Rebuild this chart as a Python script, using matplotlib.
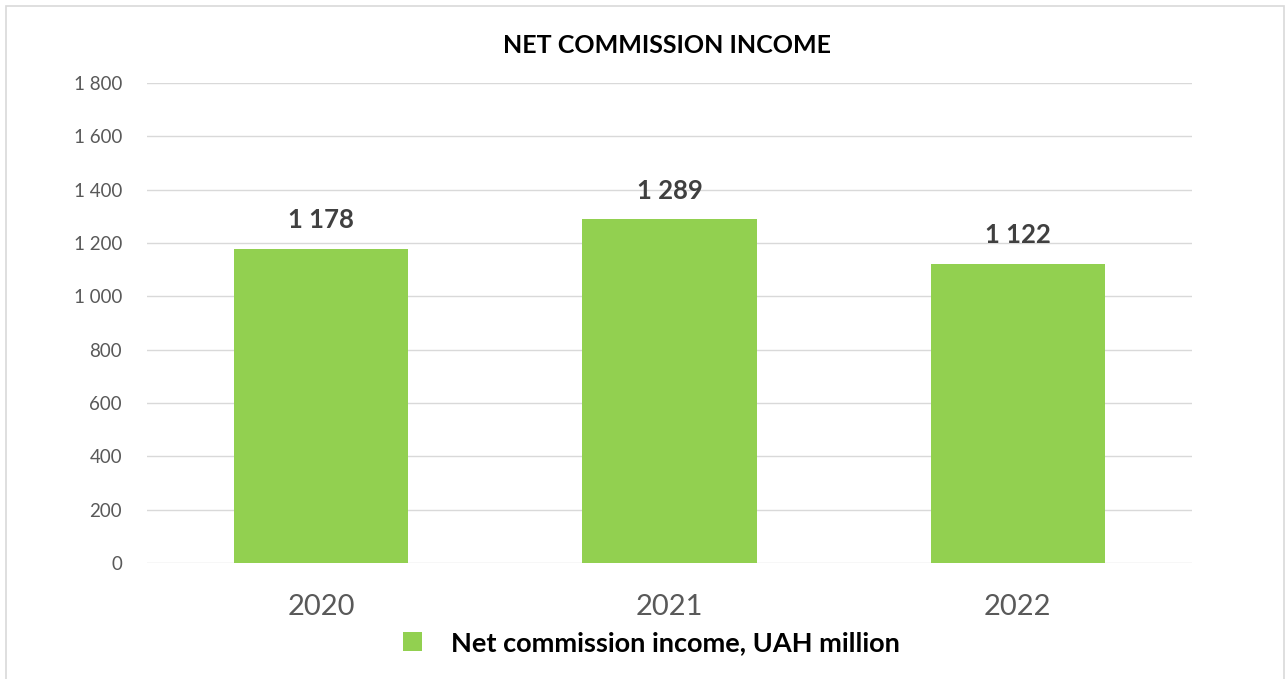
import matplotlib
matplotlib.use("Agg")
import matplotlib.pyplot as plt
from matplotlib.patches import Rectangle

years = ["2020", "2021", "2022"]
income = [1178, 1289, 1122]
yticks = [0, 200, 400, 600, 800, 1000, 1200, 1400, 1600, 1800]

green = "#92D050"


def spaced(v):
    return f"{v:,}".replace(",", " ")


plt.rcParams["font.family"] = ["Lato", "DejaVu Sans"]

fig = plt.figure(figsize=(12.86, 6.79), dpi=100)
ax = fig.add_axes([0.1143, 0.1708, 0.8126, 0.707])

x = range(len(years))
bars = ax.bar(x, income, width=0.5, color=green, zorder=3,
              label="Net commission income, UAH million")

for b, v in zip(bars, income):
    ax.annotate(spaced(v), (b.get_x() + b.get_width() / 2, v),
                xytext=(0, 12), textcoords="offset points",
                ha="center", va="bottom", fontsize=18.5, fontweight="bold",
                color="#404040")

ax.set_xlim(-0.5, 2.5)
ax.set_ylim(0, 1800)
ax.set_yticks(yticks)
ax.set_yticklabels([spaced(t) for t in yticks], fontsize=13.5, color="#595959")
ax.set_xticks(list(x))
ax.set_xticklabels(years, fontsize=21, color="#595959")
ax.tick_params(axis="both", length=0)
ax.tick_params(axis="y", pad=18)
ax.tick_params(axis="x", pad=22)
ax.grid(axis="y", color="#d9d9d9", linewidth=1, zorder=0)
for s in ax.spines.values():
    s.set_visible(False)

fig.text(0.519, 0.933, "NET COMMISSION INCOME", ha="center", va="center",
         fontsize=18, fontweight="bold", color="black")

leg = fig.legend(loc="center", bbox_to_anchor=(0.5065, 0.053), frameon=False,
                 fontsize=19.5, handlelength=0.7, handleheight=0.7,
                 handletextpad=1.1)
for t in leg.get_texts():
    t.set_fontweight("bold")

# outer chart border
fig.patches.append(Rectangle((6 / 1286, -0.01), 1278 / 1286, 1 - 6 / 679 + 0.01,
                             transform=fig.transFigure, fill=False,
                             edgecolor="#d9d9d9", linewidth=1.2))

fig.savefig("out.png", dpi=100)
